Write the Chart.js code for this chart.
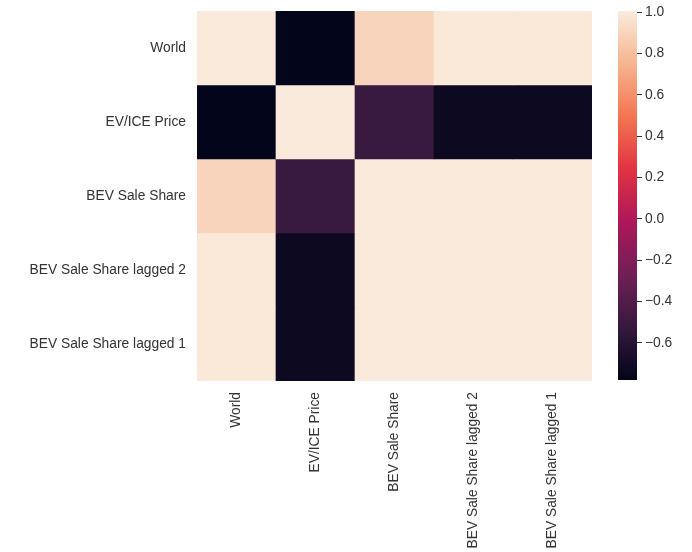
<!DOCTYPE html>
<html>
<head>
<meta charset="utf-8">
<script src="https://cdn.jsdelivr.net/npm/chart.js@4.4.1/dist/chart.umd.min.js"></script>
<style>
  body { margin: 0; background: #fff; }
  #wrap { position: relative; width: 692px; height: 552px; }
  #heat { position: absolute; left: 0; top: 0; }
  #cbar { position: absolute; left: 618px; top: 0; }
</style>
</head>
<body>
<div id="wrap">
  <canvas id="heat" width="692" height="552"></canvas>
  <canvas id="cbar" width="74" height="552"></canvas>
</div>
<script>
// variables (rows top to bottom, columns left to right)
const labels = ['World', 'EV/ICE Price', 'BEV Sale Share', 'BEV Sale Share lagged 2', 'BEV Sale Share lagged 1'];

// correlation matrix, one row per variable
const rowWorld   = [1.00, -0.78, 0.90, 0.99, 0.99];
const rowPrice   = [-0.78, 1.00, -0.51, -0.73, -0.73];
const rowShare   = [0.90, -0.51, 1.00, 1.00, 1.00];
const rowLagged2 = [0.99, -0.73, 1.00, 1.00, 1.00];
const rowLagged1 = [0.99, -0.73, 1.00, 1.00, 1.00];
const corr = [rowWorld, rowPrice, rowShare, rowLagged2, rowLagged1];

const vmin = -0.78;
const vmax = 1.005;
const cbarTicks = [-0.6, -0.4, -0.2, 0.0, 0.2, 0.4, 0.6, 0.8, 1.0];

// seaborn "rocket" colormap, sampled
const rocket = [
    [0, '#03051a'],
    [1 / 7, '#35193e'],
    [2 / 7, '#701f57'],
    [3 / 7, '#ad1759'],
    [4 / 7, '#e13342'],
    [5 / 7, '#f37651'],
    [6 / 7, '#f6b48f'],
    [1, '#faebdd']
];

function hexToRgb(h) {
    return [parseInt(h.slice(1, 3), 16), parseInt(h.slice(3, 5), 16), parseInt(h.slice(5, 7), 16)];
}

function rocketColor(v) {
    let t = (v - vmin) / (vmax - vmin);
    t = Math.max(0, Math.min(1, t));
    for (let i = 1; i < rocket.length; i++) {
        if (t <= rocket[i][0]) {
            const a = rocket[i - 1], b = rocket[i];
            const f = (t - a[0]) / (b[0] - a[0]);
            const ca = hexToRgb(a[1]), cb = hexToRgb(b[1]);
            const c = ca.map((x, k) => Math.round(x + (cb[k] - x) * f));
            return `rgb(${c[0]}, ${c[1]}, ${c[2]})`;
        }
    }
    return rocket[rocket.length - 1][1];
}

const fontStack = "'Liberation Sans', Arial, sans-serif";
const fontSize = 13.8;
const textColor = '#333333';

// heatmap: one floating bar per cell, one dataset per row
const heatDatasets = corr.map((row, r) => ({
    label: labels[r],
    data: row.map(() => [r, r + 1]),
    backgroundColor: row.map(v => rocketColor(v)),
    borderWidth: 0,
    categoryPercentage: 1.0,
    barPercentage: 1.0
}));

new Chart(document.getElementById('heat').getContext('2d'), {
    type: 'bar',
    data: { labels: labels, datasets: heatDatasets },
    options: {
        responsive: false,
        animation: false,
        layout: { padding: { left: 0, top: 11, right: 100, bottom: 0 } },
        plugins: { legend: { display: false }, tooltip: { enabled: false } },
        datasets: { bar: { grouped: false } },
        scales: {
            x: {
                grid: { display: false },
                border: { display: false },
                ticks: {
                    color: textColor,
                    font: { family: fontStack, size: fontSize },
                    maxRotation: 90,
                    minRotation: 90,
                    autoSkip: false,
                    padding: 3
                },
                afterFit: function (scale) {
                    scale.height = 171;
                    scale.paddingLeft = 0;
                    scale.paddingRight = 0;
                }
            },
            y: {
                type: 'linear',
                min: 0,
                max: labels.length,
                reverse: true,
                grid: { display: false },
                border: { display: false },
                afterBuildTicks: function (scale) {
                    scale.ticks = labels.map((l, i) => ({ value: i + 0.5 }));
                },
                ticks: {
                    color: textColor,
                    font: { family: fontStack, size: fontSize },
                    padding: 3,
                    callback: function (value) { return labels[Math.floor(value)]; }
                },
                afterFit: function (scale) {
                    scale.width = 197;
                    scale.paddingTop = 0;
                    scale.paddingBottom = 0;
                }
            }
        }
    }
});

// colorbar: a single floating bar spanning vmin..vmax with a gradient fill
new Chart(document.getElementById('cbar').getContext('2d'), {
    type: 'bar',
    data: {
        labels: [''],
        datasets: [{
            data: [[vmin, vmax]],
            borderWidth: 0,
            categoryPercentage: 1.0,
            barPercentage: 1.0,
            backgroundColor: function (context) {
                const chart = context.chart;
                const area = chart.chartArea;
                if (!area) return '#faebdd';
                const g = chart.ctx.createLinearGradient(0, area.bottom, 0, area.top);
                rocket.forEach(s => g.addColorStop(s[0], s[1]));
                return g;
            }
        }]
    },
    options: {
        responsive: false,
        animation: false,
        layout: { padding: { left: 0, top: 11, right: 0, bottom: 172 } },
        plugins: { legend: { display: false }, tooltip: { enabled: false } },
        scales: {
            x: { display: false },
            y: {
                position: 'right',
                min: vmin,
                max: vmax,
                border: { display: false },
                grid: {
                    drawOnChartArea: false,
                    drawTicks: true,
                    tickLength: 5,
                    tickColor: '#333333'
                },
                afterBuildTicks: function (scale) {
                    scale.ticks = cbarTicks.map(v => ({ value: v }));
                },
                ticks: {
                    color: textColor,
                    font: { family: fontStack, size: fontSize },
                    padding: 3,
                    callback: function (value) {
                        return value.toFixed(1).replace('-', '\u2212');
                    }
                },
                afterFit: function (scale) {
                    scale.width = 55;
                    scale.paddingTop = 0;
                    scale.paddingBottom = 0;
                }
            }
        }
    }
});
</script>
</body>
</html>
